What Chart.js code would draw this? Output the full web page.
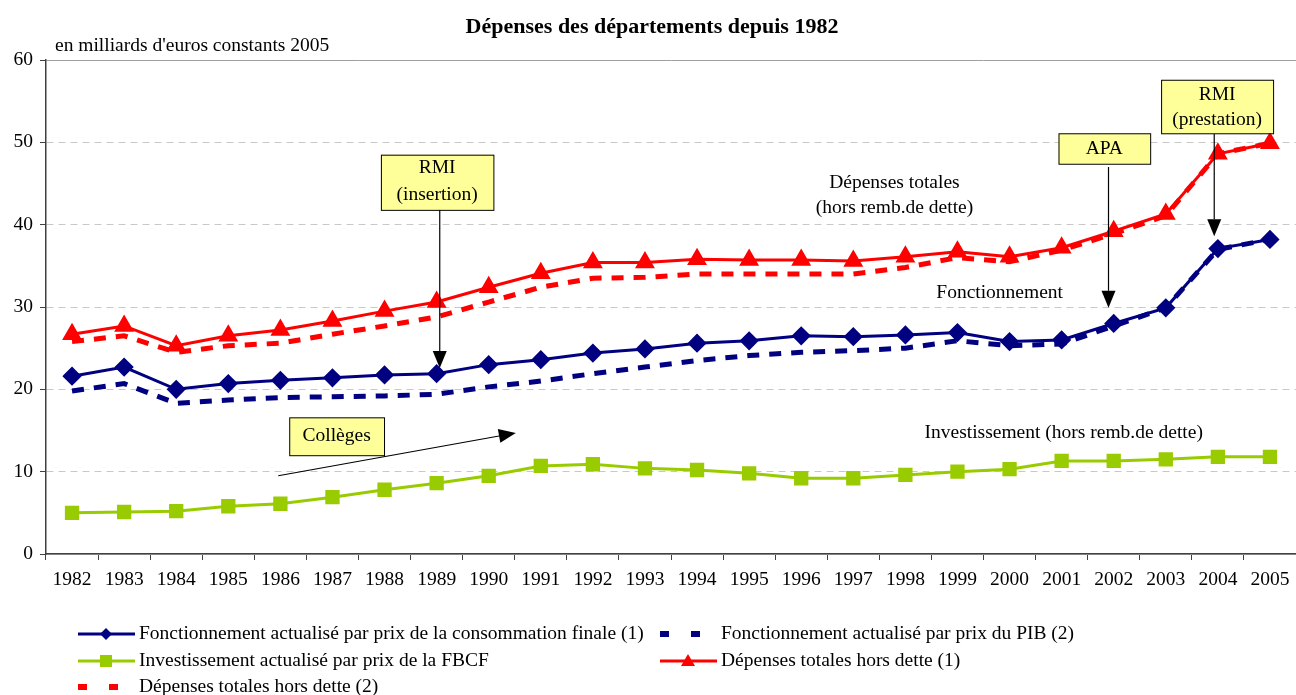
<!DOCTYPE html>
<html lang="fr">
<head>
<meta charset="utf-8">
<title>Dépenses des départements depuis 1982</title>
<script src="https://cdn.jsdelivr.net/npm/chart.js@4.4.1/dist/chart.umd.min.js"></script>
<style>
  html, body { margin: 0; padding: 0; background: #fff; overflow: hidden; }
  #wrap { position: relative; width: 1296px; height: 695px; }
</style>
</head>
<body>
<div id="wrap"><canvas id="depChart" width="1296" height="695"></canvas></div>
<script>
// Dépenses des départements depuis 1982 (milliards d'euros constants 2005)
const years = ['1982','1983','1984','1985','1986','1987','1988','1989','1990','1991','1992','1993',
               '1994','1995','1996','1997','1998','1999','2000','2001','2002','2003','2004','2005'];

const fonctConso = [21.6,22.7,20.0,20.7,21.1,21.4,21.75,21.9,23.0,23.6,24.4,24.9,
                    25.6,25.9,26.5,26.4,26.6,26.9,25.8,26.0,28.0,29.9,37.1,38.2];
const fonctPib   = [19.8,20.7,18.3,18.7,19.0,19.1,19.2,19.4,20.3,21.0,21.9,22.7,
                    23.5,24.1,24.5,24.7,25.0,25.9,25.3,25.5,27.7,29.9,37.0,38.2];
const invest     = [5.0,5.1,5.2,5.8,6.1,6.9,7.8,8.6,9.5,10.7,10.9,10.4,
                    10.2,9.8,9.2,9.2,9.6,10.0,10.3,11.3,11.3,11.5,11.8,11.8];
const totalConso = [26.7,27.7,25.3,26.5,27.2,28.3,29.5,30.6,32.4,34.1,35.4,35.4,
                    35.8,35.7,35.7,35.6,36.1,36.7,36.1,37.2,39.2,41.3,48.6,49.9];
const totalPib   = [25.8,26.5,24.5,25.3,25.6,26.7,27.7,28.8,30.6,32.4,33.5,33.6,
                    34.0,34.0,34.0,34.0,34.8,36.0,35.5,36.9,38.9,41.1,48.6,49.9];

const yTicks = [0,10,20,30,40,50,60];

const NAVY = '#000080', RED = '#ff0000', GREEN = '#99cc00';
const SERIF = '"Liberation Serif", "Times New Roman", serif';
const FS = 19.5;

// annotations, placed in category-index / value units
const boxes = [
  { x0: 5.93, x1: 8.09, y0: 48.5, y1: 41.8, lines: [['RMI',46.9],['(insertion)',43.6]] },
  { x0: 18.94, x1: 20.70, y0: 51.1, y1: 47.4, lines: [['APA',49.2]] },
  { x0: 20.91, x1: 23.06, y0: 57.6, y1: 51.1, lines: [['RMI',55.75],['(prestation)',52.7]] },
  { x0: 4.17, x1: 5.99, y0: 16.6, y1: 12.0, lines: [['Collèges',14.3]] }
];
const arrows = [
  { x0: 7.06, y0: 41.8, x1: 7.06, y1: 22.6 },
  { x0: 19.90, y0: 47.0, x1: 19.90, y1: 29.9 },
  { x0: 21.93, y0: 51.0, x1: 21.93, y1: 38.6 },
  { x0: 3.96, y0: 9.5, x1: 8.52, y1: 14.7 }
];
const notes = [
  ['Dépenses totales', 15.79, 45.1],
  ['(hors remb.de dette)', 15.79, 42.1],
  ['Fonctionnement', 17.81, 31.7],
  ['Investissement (hors remb.de dette)', 19.04, 14.7]
];

function arrow(ctx, x0, y0, x1, y1){
  const a = Math.atan2(y1 - y0, x1 - x0);
  const L = 17, W = 7;
  const bx = x1 - L*Math.cos(a), by = y1 - L*Math.sin(a);
  ctx.beginPath(); ctx.moveTo(x0, y0); ctx.lineTo(bx, by); ctx.stroke();
  ctx.beginPath();
  ctx.moveTo(x1, y1);
  ctx.lineTo(bx + W*Math.sin(a), by - W*Math.cos(a));
  ctx.lineTo(bx - W*Math.sin(a), by + W*Math.cos(a));
  ctx.closePath(); ctx.fill();
}

const extras = {
  id: 'extras',
  afterDraw(chart){
    const ctx = chart.ctx, xs = chart.scales.x, ys = chart.scales.y;
    const X = i => xs.getPixelForValue(0) + i*(xs.getPixelForValue(1) - xs.getPixelForValue(0));
    const Y = v => ys.getPixelForValue(v);
    ctx.save();

    // title + unit
    ctx.fillStyle = '#000';
    ctx.textBaseline = 'middle';
    ctx.textAlign = 'center';
    ctx.font = 'bold 22px ' + SERIF;
    ctx.fillText('Dépenses des départements depuis 1982', 652, 27);
    ctx.textAlign = 'left';
    ctx.font = FS + 'px ' + SERIF;
    ctx.fillText("en milliards d'euros constants 2005", 55, 46);

    // free notes
    ctx.textAlign = 'center';
    notes.forEach(n => ctx.fillText(n[0], X(n[1]), Y(n[2])));

    // arrows
    ctx.strokeStyle = '#000'; ctx.fillStyle = '#000'; ctx.lineWidth = 1.2;
    arrows.forEach(a => arrow(ctx, X(a.x0), Y(a.y0), X(a.x1), Y(a.y1)));

    // yellow boxes
    boxes.forEach(b => {
      const x = X(b.x0), y = Y(b.y0), w = X(b.x1) - x, h = Y(b.y1) - y;
      ctx.fillStyle = '#ffff99'; ctx.fillRect(x, y, w, h);
      ctx.strokeStyle = '#000'; ctx.lineWidth = 1; ctx.strokeRect(x + 0.5, y + 0.5, w, h);
      ctx.fillStyle = '#000';
      b.lines.forEach(l => ctx.fillText(l[0], x + w/2, Y(l[1])));
    });

    // legend
    ctx.textAlign = 'left';
    const legend = [
      { ds: 0, x: 78, y: 634 }, { ds: 1, x: 660, y: 634 },
      { ds: 2, x: 78, y: 661 }, { ds: 3, x: 660, y: 661 },
      { ds: 4, x: 78, y: 687 }
    ];
    legend.forEach(it => {
      const d = chart.data.datasets[it.ds];
      const x = it.x, y = it.y;
      ctx.strokeStyle = d.borderColor; ctx.fillStyle = d.borderColor;
      if (d.borderDash && d.borderDash.length){
        ctx.fillRect(x, y - 3, 9, 6);
        ctx.fillRect(x + 31, y - 3, 9, 6);
      } else {
        ctx.lineWidth = 3;
        ctx.beginPath(); ctx.moveTo(x, y); ctx.lineTo(x + 57, y); ctx.stroke();
        const cx = x + 28;
        ctx.beginPath();
        if (d.pointStyle === 'rectRot'){
          ctx.moveTo(cx, y - 6); ctx.lineTo(cx + 6, y); ctx.lineTo(cx, y + 6); ctx.lineTo(cx - 6, y);
        } else if (d.pointStyle === 'rect'){
          ctx.rect(cx - 6, y - 6, 12, 12);
        } else {
          ctx.moveTo(cx, y - 7); ctx.lineTo(cx + 7, y + 5); ctx.lineTo(cx - 7, y + 5);
        }
        ctx.closePath(); ctx.fill();
      }
      ctx.fillStyle = '#000';
      ctx.fillText(d.label, x + 61, y);
    });
    ctx.restore();
  }
};

const ctx = document.getElementById('depChart').getContext('2d');
new Chart(ctx, {
  type: 'line',
  data: {
    labels: years,
    datasets: [
      { label: 'Fonctionnement actualisé par prix de la consommation finale (1)', data: fonctConso,
        borderColor: NAVY, backgroundColor: NAVY, borderWidth: 3,
        pointStyle: 'rectRot', pointRadius: 7.5, pointHoverRadius: 7.5 },
      { label: 'Fonctionnement actualisé par prix du PIB (2)', data: fonctPib,
        borderColor: NAVY, backgroundColor: NAVY, borderWidth: 5, borderDash: [12, 10],
        pointRadius: 0, order: 2 },
      { label: 'Investissement actualisé par prix de la FBCF', data: invest,
        borderColor: GREEN, backgroundColor: GREEN, borderWidth: 3,
        pointStyle: 'rect', pointRadius: 8, pointHoverRadius: 8 },
      { label: 'Dépenses totales hors dette (1)', data: totalConso,
        borderColor: RED, backgroundColor: RED, borderWidth: 3,
        pointStyle: 'triangle', pointRadius: 8.5, pointHoverRadius: 8.5 },
      { label: 'Dépenses totales hors dette (2)', data: totalPib,
        borderColor: RED, backgroundColor: RED, borderWidth: 5, borderDash: [12, 10],
        pointRadius: 0, order: 2 }
    ]
  },
  options: {
    responsive: false,
    animation: false,
    layout: { autoPadding: false, padding: { top: 60, right: -4, bottom: 101, left: 0 } },
    elements: { line: { tension: 0 } },
    plugins: { legend: { display: false }, title: { display: false }, tooltip: { enabled: false } },
    scales: {
      x: {
        offset: true,
        afterFit: s => { s.height = 40; s.paddingRight = 0; s.paddingLeft = 0; },
        grid: { offset: true, drawOnChartArea: false, tickLength: 6, tickColor: '#404040' },
        border: { color: '#404040', width: 1.5 },
        ticks: { color: '#000', font: { family: SERIF, size: FS }, padding: 8, maxRotation: 0, autoSkip: false }
      },
      y: {
        min: 0, max: 60,
        afterFit: s => { s.width = 46; },
        afterBuildTicks: s => { s.ticks = yTicks.map(v => ({ value: v })); },
        grid: {
          color: c => c.tick && c.tick.value === 60 ? '#a0a0a0' : '#c8c8c8',
          tickColor: '#404040', tickLength: 6, tickBorderDash: []
        },
        border: {
          color: '#404040', width: 1.5,
          dash: c => c.tick && (c.tick.value === 60 || c.tick.value === 0) ? [] : [7, 5]
        },
        ticks: { color: '#000', font: { family: SERIF, size: FS }, padding: 7 }
      }
    }
  },
  plugins: [extras]
});
</script>
</body>
</html>
